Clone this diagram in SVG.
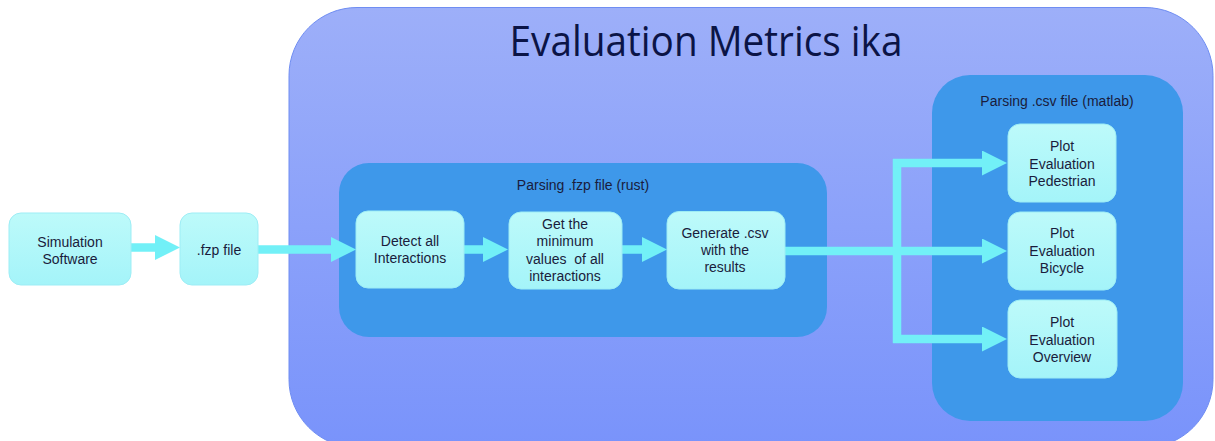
<svg xmlns="http://www.w3.org/2000/svg" width="1215" height="441" viewBox="0 0 1215 441">
  <defs>
    <linearGradient id="outerFill" x1="0" y1="0" x2="0" y2="1">
      <stop offset="0" stop-color="#9DAFF9"/>
      <stop offset="1" stop-color="#7993FB"/>
    </linearGradient>
    <linearGradient id="nodeFill" x1="0" y1="0" x2="0" y2="1">
      <stop offset="0" stop-color="#BDFAFA"/>
      <stop offset="1" stop-color="#A4F4F9"/>
    </linearGradient>
    <marker id="head" markerUnits="userSpaceOnUse" viewBox="0 0 25 25" refX="0" refY="12.5" markerWidth="25" markerHeight="25" orient="auto">
      <path d="M0,0 L25,12.5 L0,25 Z" fill="#72F0F7"/>
    </marker>
    <style>
      .node rect { fill: url(#nodeFill); stroke: #9DEDF5; stroke-width: 1; }
      .group rect { fill: #3E98EA; }
      .label { font-family: "Liberation Sans", Arial, sans-serif; font-size: 14px; fill: #1A1C3C; text-anchor: middle; }
      .title { font-family: "Open Sans", "Noto Sans", sans-serif; font-size: 42px; fill: #0B1446; text-anchor: middle; }
      .wire { fill: none; stroke: #72F0F7; stroke-width: 8.5; }
      .pre { white-space: pre; }
    </style>
  </defs>

  <!-- outer container -->
  <g id="evaluation-metrics">
    <rect x="289" y="7.5" width="924" height="440" rx="68" fill="url(#outerFill)" stroke="#6F8DF2" stroke-width="1"/>
    <text class="title" x="706" y="56" textLength="393" lengthAdjust="spacingAndGlyphs">Evaluation Metrics ika</text>
  </g>

  <!-- sub containers -->
  <g id="parse-fzp" class="group">
    <rect x="339" y="163" width="488" height="174" rx="30"/>
    <text class="label" x="583" y="190">Parsing .fzp file (rust)</text>
  </g>
  <g id="parse-csv" class="group">
    <rect x="932" y="75" width="251" height="346" rx="38"/>
    <text class="label" x="1057" y="106">Parsing .csv file (matlab)</text>
  </g>

  <!-- connectors -->
  <g id="connectors">
    <path class="wire" d="M131,247.5 H155" marker-end="url(#head)"/>
    <path class="wire" d="M258,249.5 H331" marker-end="url(#head)"/>
    <path class="wire" d="M464,249.5 H483" marker-end="url(#head)"/>
    <path class="wire" d="M622,249.5 H642" marker-end="url(#head)"/>
    <path class="wire" d="M785,251 H901"/>
    <path class="wire" d="M897,159 V343"/>
    <path class="wire" d="M893,163 H982" marker-end="url(#head)"/>
    <path class="wire" d="M901,251 H982" marker-end="url(#head)"/>
    <path class="wire" d="M893,339 H982" marker-end="url(#head)"/>
  </g>

  <!-- nodes -->
  <g id="simulation-software" class="node">
    <rect x="9" y="213" width="122" height="72" rx="12"/>
    <text class="label"><tspan x="70" y="247">Simulation</tspan><tspan x="70" y="264">Software</tspan></text>
  </g>
  <g id="fzp-file" class="node">
    <rect x="180" y="213" width="78" height="72" rx="12"/>
    <text class="label" x="219" y="255">.fzp file</text>
  </g>
  <g id="detect-interactions" class="node">
    <rect x="356" y="211" width="108" height="77" rx="12"/>
    <text class="label"><tspan x="410" y="246">Detect all</tspan><tspan x="410" y="263">Interactions</tspan></text>
  </g>
  <g id="minimum-values" class="node">
    <rect x="509" y="212" width="113" height="77" rx="12"/>
    <text class="label"><tspan x="565" y="229">Get the</tspan><tspan x="565" y="246">minimum</tspan><tspan class="pre" x="565" y="264">values  of all</tspan><tspan x="565" y="281">interactions</tspan></text>
  </g>
  <g id="generate-csv" class="node">
    <rect x="667" y="211.5" width="118" height="77.5" rx="12"/>
    <text class="label"><tspan x="725" y="238">Generate .csv</tspan><tspan x="725" y="255">with the</tspan><tspan x="725" y="272">results</tspan></text>
  </g>
  <g id="plot-pedestrian" class="node">
    <rect x="1008" y="124" width="108" height="78" rx="12"/>
    <text class="label"><tspan x="1062" y="151">Plot</tspan><tspan x="1062" y="169">Evaluation</tspan><tspan x="1062" y="186">Pedestrian</tspan></text>
  </g>
  <g id="plot-bicycle" class="node">
    <rect x="1008" y="212" width="108" height="78" rx="12"/>
    <text class="label"><tspan x="1062" y="238">Plot</tspan><tspan x="1062" y="256">Evaluation</tspan><tspan x="1062" y="273">Bicycle</tspan></text>
  </g>
  <g id="plot-overview" class="node">
    <rect x="1008" y="300" width="109" height="78" rx="12"/>
    <text class="label"><tspan x="1062" y="327">Plot</tspan><tspan x="1062" y="345">Evaluation</tspan><tspan x="1062" y="362">Overview</tspan></text>
  </g>
</svg>
